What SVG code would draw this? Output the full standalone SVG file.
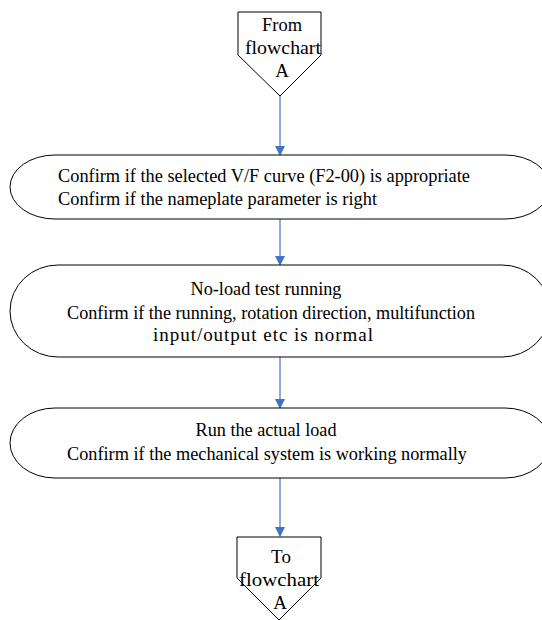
<svg xmlns="http://www.w3.org/2000/svg" width="542" height="620" viewBox="0 0 542 620">
<style>
.shape{fill:#fff;stroke:#000;stroke-width:1}
.t{font-family:"Liberation Serif","Times New Roman",serif;font-size:19px;fill:#000}
.c{text-anchor:middle}
.conn{stroke:#4472C4;stroke-width:1.2;fill:none}
</style>
<defs>
<marker id="arr" markerWidth="10" markerHeight="10" refX="9" refY="5" orient="auto" markerUnits="userSpaceOnUse">
<path d="M0,0 L10,5 L0,10 z" fill="#4472C4"/>
</marker>
</defs>
<g id="connectors">
<line class="conn" x1="280" y1="96" x2="280" y2="155" marker-end="url(#arr)"/>
<line class="conn" x1="280" y1="219" x2="280" y2="265" marker-end="url(#arr)"/>
<line class="conn" x1="280" y1="357" x2="280" y2="408" marker-end="url(#arr)"/>
<line class="conn" x1="280" y1="478" x2="280" y2="536" marker-end="url(#arr)"/>
</g>
<g id="start">
<path class="shape" d="M238,12 L321,12 L321,55 L280,96 L238,55 Z"/>
<text class="t c" x="282" y="31" textLength="40" lengthAdjust="spacingAndGlyphs">From</text>
<text class="t c" x="283" y="54" textLength="76" lengthAdjust="spacingAndGlyphs">flowchart</text>
<text class="t c" x="282" y="77">A</text>
</g>
<g id="step1">
<path class="shape" d="M55,155 L505,155 A45,32 0 0 1 505,219 L55,219 A45,32 0 0 1 55,155 Z"/>
<text class="t" x="58" y="182" textLength="412" lengthAdjust="spacingAndGlyphs">Confirm if the selected V/F curve (F2-00) is appropriate</text>
<text class="t" x="58" y="205" textLength="319" lengthAdjust="spacingAndGlyphs">Confirm if the nameplate parameter is right</text>
</g>
<g id="step2">
<path class="shape" d="M58,265 L502,265 A48,46 0 0 1 502,357 L58,357 A48,46 0 0 1 58,265 Z"/>
<text class="t c" x="266" y="295" textLength="151" lengthAdjust="spacingAndGlyphs">No-load test running</text>
<text class="t c" x="271" y="319" textLength="408" lengthAdjust="spacingAndGlyphs">Confirm if the running, rotation direction, multifunction</text>
<text class="t c" x="263" y="341" textLength="220" lengthAdjust="spacing">input/output etc is normal</text>
</g>
<g id="step3">
<path class="shape" d="M55,408 L505,408 A45,35 0 0 1 505,478 L55,478 A45,35 0 0 1 55,408 Z"/>
<text class="t c" x="266" y="436" textLength="141" lengthAdjust="spacingAndGlyphs">Run the actual load</text>
<text class="t c" x="267" y="460" textLength="400" lengthAdjust="spacingAndGlyphs">Confirm if the mechanical system is working normally</text>
</g>
<g id="end">
<path class="shape" d="M237,537 L321,537 L321,578 L279,620 L237,578 Z"/>
<text class="t c" x="281" y="563">To</text>
<text class="t c" x="279" y="586" textLength="80" lengthAdjust="spacingAndGlyphs">flowchart</text>
<text class="t c" x="280" y="609">A</text>
</g>
</svg>
